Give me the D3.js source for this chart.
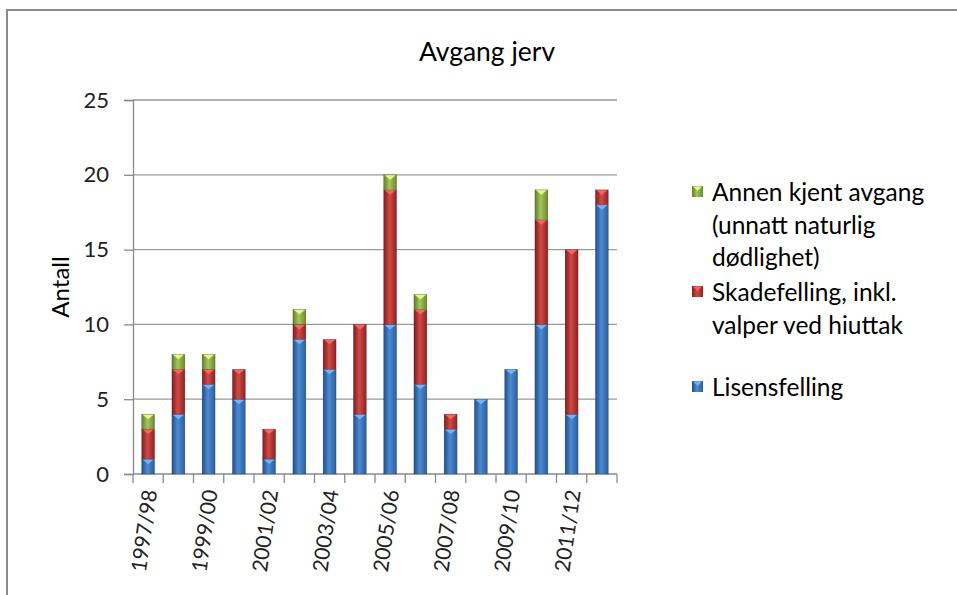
<!DOCTYPE html>
<html>
<head>
<meta charset="utf-8">
<script src="https://cdn.jsdelivr.net/npm/d3@7"></script>
<style>
  body { margin: 0; background: #fff; }
  svg { display: block; font-family: Lato, "Open Sans", sans-serif; }
</style>
</head>
<body>
<svg id="chart" width="957" height="595"></svg>
<script>
// data
const seasons = ["1997/98","1998/99","1999/00","2000/01","2001/02","2002/03","2003/04","2004/05",
                 "2005/06","2006/07","2007/08","2008/09","2009/10","2010/11","2011/12","2012/13"];
const lisensfelling = [1, 4, 6, 5, 1, 9, 7, 4, 10, 6, 3, 5, 7, 10, 4, 18];
const skadefelling  = [2, 3, 1, 2, 2, 1, 2, 6, 9, 5, 1, 0, 0, 7, 11, 1];
const annenAvgang   = [1, 1, 1, 0, 0, 1, 0, 0, 1, 1, 0, 0, 0, 2, 0, 0];
const yTicks = [0, 5, 10, 15, 20, 25];

const seriesKeys = ["lisens", "skade", "annen"];
const legendNames = {
  annen: ["Annen kjent avgang", "(unnatt naturlig", "dødlighet)"],
  skade: ["Skadefelling, inkl.", "valper ved hiuttak"],
  lisens: ["Lisensfelling"]
};

const table = seasons.map((s, i) => ({
  season: s, lisens: lisensfelling[i], skade: skadefelling[i], annen: annenAvgang[i]
}));

const svg = d3.select("#chart");

// gradients to mimic the shaded bars
const shades = {
  lisens: ["#1f4f8f", "#4f8ad0", "#2a5d9f"],
  skade:  ["#7f1c1c", "#d04a47", "#8e2322"],
  annen:  ["#5f7f25", "#a6c45e", "#6a8a2c"]
};
const defs = svg.append("defs");
seriesKeys.forEach(k => {
  const g = defs.append("linearGradient").attr("id", "grad-" + k)
    .attr("x1", "0%").attr("x2", "100%").attr("y1", "0%").attr("y2", "0%");
  g.append("stop").attr("offset", "0%").attr("stop-color", shades[k][0]);
  g.append("stop").attr("offset", "45%").attr("stop-color", shades[k][1]);
  g.append("stop").attr("offset", "100%").attr("stop-color", shades[k][2]);
});

// outer frame
svg.append("path")
  .attr("d", "M7,595 L7,10 L957,10")
  .attr("fill", "none").attr("stroke", "#8a8a8a").attr("stroke-width", 2);

const plotLeft = 133, plotRight = 617, plotTop = 100, plotBottom = 474;

const x = d3.scaleBand().domain(seasons).range([plotLeft, plotRight]).paddingInner(0.57).paddingOuter(0.285);
const y = d3.scaleLinear().domain([0, 25]).range([plotBottom, plotTop]);

// gridlines
svg.append("g").selectAll("line")
  .data(yTicks.filter(t => t > 0))
  .join("line")
  .attr("x1", plotLeft).attr("x2", plotRight)
  .attr("y1", d => y(d)).attr("y2", d => y(d))
  .attr("stroke", "#9a9a9a").attr("stroke-width", 1.3);

// title
svg.append("text")
  .attr("x", 487).attr("y", 61)
  .attr("text-anchor", "middle")
  .attr("font-size", 26.5).attr("fill", "#000")
  .text("Avgang jerv");

// y axis
const yAxis = svg.append("g")
  .attr("transform", `translate(${plotLeft},0)`)
  .call(d3.axisLeft(y).tickValues(yTicks).tickSize(9).tickPadding(15));
yAxis.select(".domain").attr("stroke", "#8a8a8a").attr("stroke-width", 1.3);
yAxis.selectAll(".tick line").attr("stroke", "#8a8a8a").attr("stroke-width", 1.3);
yAxis.selectAll(".tick text").attr("font-size", 22).attr("fill", "#222")
  .attr("font-family", "Lato, 'Open Sans', sans-serif");

svg.append("text")
  .attr("transform", "translate(69,287) rotate(-90)")
  .attr("text-anchor", "middle")
  .attr("font-size", 24).attr("fill", "#000")
  .text("Antall");

// x axis: ticks between categories, labels on every other season
const step = x.step();
const xAxisG = svg.append("g");
xAxisG.append("line")
  .attr("x1", plotLeft).attr("x2", plotRight).attr("y1", plotBottom).attr("y2", plotBottom)
  .attr("stroke", "#8a8a8a").attr("stroke-width", 1.3);
xAxisG.selectAll(".sep")
  .data(d3.range(seasons.length + 1))
  .join("line")
  .attr("x1", i => plotLeft + i * step).attr("x2", i => plotLeft + i * step)
  .attr("y1", plotBottom).attr("y2", plotBottom + 9)
  .attr("stroke", "#8a8a8a").attr("stroke-width", 1.3);
xAxisG.selectAll(".lbl")
  .data(seasons.filter((s, i) => i % 2 === 0))
  .join("text")
  .attr("transform", d => `translate(${x(d) + x.bandwidth() / 2 + 9},${plotBottom + 17}) rotate(-82)`)
  .attr("text-anchor", "end")
  .attr("font-size", 21).attr("fill", "#222")
  .text(d => d);

// stacked bars
const stacked = d3.stack().keys(seriesKeys)(table);
const layers = svg.append("g").selectAll("g")
  .data(stacked)
  .join("g")
  .attr("fill", d => `url(#grad-${d.key})`);

const segs = layers.selectAll("g")
  .data(d => d.filter(p => p[1] - p[0] > 0).map(p => ({ p, key: d.key })))
  .join("g");

segs.append("rect")
  .attr("x", d => x(d.p.data.season))
  .attr("y", d => y(d.p[1]))
  .attr("width", x.bandwidth())
  .attr("height", d => y(d.p[0]) - y(d.p[1]))
  .attr("stroke", "rgba(0,0,0,0.25)").attr("stroke-width", 0.6);

// little bevel triangle on top of each segment
segs.append("path")
  .attr("d", d => {
    const x0 = x(d.p.data.season), w = x.bandwidth(), yt = y(d.p[1]);
    return `M${x0 + 1},${yt + 0.5} L${x0 + w - 1},${yt + 0.5} L${x0 + w / 2},${yt + 5} Z`;
  })
  .attr("fill", d => d3.color(shades[d.key][1]).brighter(0.8));

// legend
const legendOrder = ["annen", "skade", "lisens"];
const legendY = { annen: 192, skade: 292, lisens: 387 };
const lg = svg.append("g");
legendOrder.forEach(k => {
  lg.append("rect")
    .attr("x", 692).attr("y", legendY[k] - 6)
    .attr("width", 11).attr("height", 11)
    .attr("fill", `url(#grad-${k})`);
  lg.append("path")
    .attr("d", `M693,${legendY[k] - 5.5} L702,${legendY[k] - 5.5} L697.5,${legendY[k] - 1} Z`)
    .attr("fill", d3.color(shades[k][1]).brighter(0.8));
  const t = lg.append("text")
    .attr("x", 712).attr("y", legendY[k] + 9)
    .attr("font-size", 24.5).attr("fill", "#000");
  legendNames[k].forEach((line, j) => {
    t.append("tspan").attr("x", 712).attr("dy", j === 0 ? 0 : 32.5).text(line);
  });
});
</script>
</body>
</html>
